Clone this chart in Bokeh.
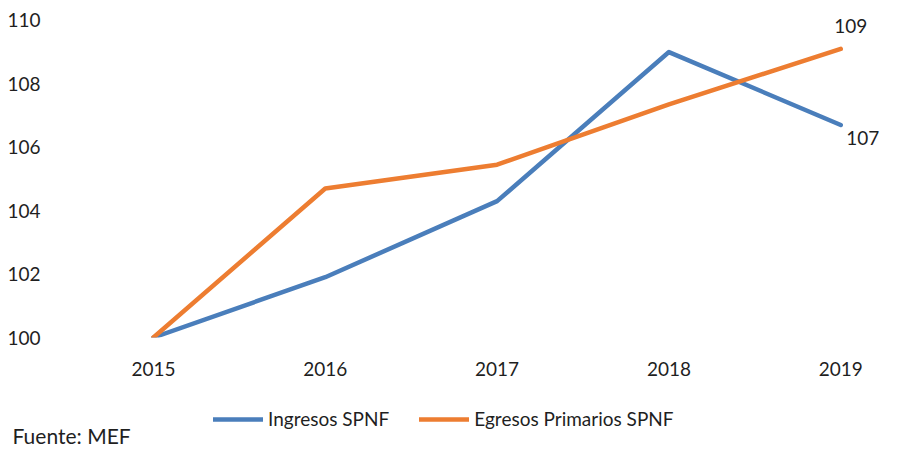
from bokeh.plotting import figure
from bokeh.layouts import column, row
from bokeh.models import Legend, LegendItem, Label, FixedTicker
from bokeh.core.properties import value
from bokeh.embed import file_html
from bokeh.resources import INLINE

years = ["2015", "2016", "2017", "2018", "2019"]
ingresos = [100.0, 101.9, 104.3, 109.0, 106.7]
egresos = [100.0, 104.7, 105.45, 107.35, 109.1]
y_ticks = [100, 102, 104, 106, 108, 110]
series_names = ["Ingresos SPNF", "Egresos Primarios SPNF"]
source_note = "Fuente:  MEF"

FONT = "Lato"
FS = "19px"
TXT = "#1f1f1f"
BLUE = "#4A7EBB"
ORANGE = "#ED7D31"
W = 909

xs = list(range(len(years)))

p = figure(width=W, height=385, output_backend="svg", toolbar_location=None,
           x_range=(-0.5, 4.40), y_range=(100, 110.5),
           min_border_left=67, min_border_right=0, min_border_top=4, min_border_bottom=48)
p.outline_line_color = None
p.border_fill_color = "white"

p.xgrid.grid_line_color = None
p.ygrid.ticker = FixedTicker(ticks=[100])
p.ygrid.grid_line_color = "#D9D9D9"
p.ygrid.grid_line_width = 1.5

p.yaxis.ticker = FixedTicker(ticks=y_ticks)
p.yaxis.axis_line_color = None
p.yaxis.major_tick_line_color = None
p.yaxis.minor_tick_line_color = None
p.yaxis.major_label_text_font = FONT
p.yaxis.major_label_text_font_size = FS
p.yaxis.major_label_text_color = TXT
p.yaxis.major_label_standoff = 21

p.xaxis.ticker = FixedTicker(ticks=xs)
p.xaxis.major_label_overrides = {i: y for i, y in zip(xs, years)}
p.xaxis.axis_line_color = None
p.xaxis.major_tick_line_color = None
p.xaxis.minor_tick_line_color = None
p.xaxis.major_label_text_font = FONT
p.xaxis.major_label_text_font_size = FS
p.xaxis.major_label_text_color = TXT
p.xaxis.major_label_standoff = 18

p.line(xs, ingresos, line_color=BLUE, line_width=4.5, line_join="round", line_cap="round")
p.line(xs, egresos, line_color=ORANGE, line_width=4.5, line_join="round", line_cap="round")

p.text(x=[xs[-1]], y=[egresos[-1]], text=[f"{egresos[-1]:.0f}"],
       text_font=value(FONT), text_font_size=FS, text_color=TXT,
       text_align="center", text_baseline="middle", x_offset=10, y_offset=-23)
p.text(x=[xs[-1]], y=[ingresos[-1]], text=[f"{ingresos[-1]:.0f}"],
       text_font=value(FONT), text_font_size=FS, text_color=TXT,
       text_align="center", text_baseline="middle", x_offset=22, y_offset=13)

# bottom strip with legend and source note
H2 = 64
q = figure(width=W, height=H2, output_backend="svg", toolbar_location=None,
           x_range=(0, W), y_range=(0, H2), x_axis_type=None, y_axis_type=None,
           min_border=0)
q.outline_line_color = None
q.xgrid.grid_line_color = None
q.ygrid.grid_line_color = None
nan = float("nan")
l1 = q.line([nan], [nan], line_color=BLUE, line_width=4.5, line_cap="round")
l2 = q.line([nan], [nan], line_color=ORANGE, line_width=4.5, line_cap="round")
legend = Legend(items=[LegendItem(label=series_names[0], renderers=[l1]),
                       LegendItem(label=series_names[1], renderers=[l2])],
                orientation="horizontal", location=(213, 19),
                glyph_width=50, glyph_height=20, label_standoff=5, spacing=30,
                padding=0, margin=0, border_line_color=None, background_fill_alpha=0,
                label_text_font=FONT, label_text_font_size=FS, label_text_color=TXT,
                label_height=20)
q.add_layout(legend, "center")
q.add_layout(Label(x=12, y=14, text=source_note,
                   text_font=FONT, text_font_size="21px", text_color=TXT,
                   text_baseline="middle"))

for fig in (p, q):
    try:
        fig.frame_align = False
    except Exception:
        pass

layout = column(p, row(q), spacing=0)
open("out.html", "w").write(file_html(layout, INLINE))
